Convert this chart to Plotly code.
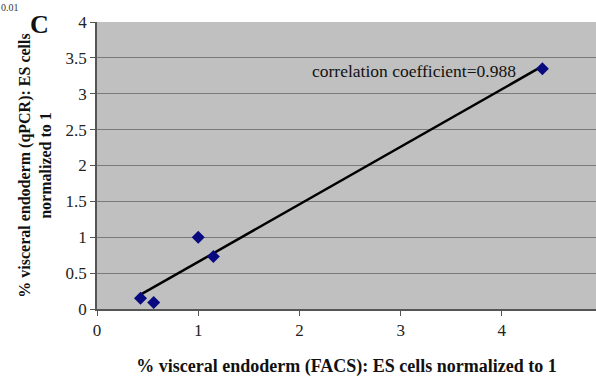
import numpy as np
import plotly.graph_objects as go

facs = [0.43, 0.56, 1.0, 1.15, 4.4]
qpcr = [0.15, 0.09, 1.0, 0.73, 3.35]
x_ticks = [0, 1, 2, 3, 4]
y_ticks = [0, 0.5, 1, 1.5, 2, 2.5, 3, 3.5, 4]
y_tick_labels = ["0", "0.5", "1", "1.5", "2", "2.5", "3", "3.5", "4"]

slope, intercept = np.polyfit(facs, qpcr, 1)
lx = [min(facs), max(facs)]
ly = [slope * v + intercept for v in lx]

serif = "Liberation Serif, serif"

fig = go.Figure()
fig.add_trace(go.Scatter(x=lx, y=ly, mode="lines",
                         line=dict(color="black", width=2.5), showlegend=False))
fig.add_trace(go.Scatter(x=facs, y=qpcr, mode="markers",
                         marker=dict(symbol="diamond", size=10, color="#0a0a80"),
                         showlegend=False))

fig.add_annotation(x=3.13, y=3.32, xref="x", yref="y", text="correlation coefficient=0.988",
                   showarrow=False, font=dict(family=serif, size=17.5, color="#111", weight="normal"),
                   xanchor="center", yanchor="middle")
fig.add_annotation(x=-0.115, y=0.99, xref="paper", yref="paper", text="<b>C</b>",
                   showarrow=False, font=dict(family=serif, size=26, color="#111"),
                   xanchor="center", yanchor="middle")
fig.add_annotation(x=-0.175, y=1.078, xref="paper", yref="paper", text="0.01",
                   showarrow=False, font=dict(family=serif, size=10, color="#333"),
                   xanchor="center", yanchor="top")

fig.update_layout(
    width=596, height=377,
    margin=dict(l=97, r=0, t=22, b=68),
    paper_bgcolor="white", plot_bgcolor="#c0c0c0",
    font=dict(family=serif, size=17, color="#222"),
    xaxis=dict(range=[0, 4.93], tickvals=x_ticks, showgrid=False, zeroline=False,
               showline=True, linecolor="#555", linewidth=1.5, ticks="outside",
               ticklen=5, tickcolor="#555",
               tickfont=dict(family=serif, size=17, color="#222", weight="normal"),
               title=dict(text="<b>% visceral endoderm (FACS): ES cells normalized to 1</b>",
                          font=dict(family=serif, size=18, color="#111"), standoff=22)),
    yaxis=dict(range=[0, 4], tickvals=y_ticks, ticktext=y_tick_labels,
               showgrid=True, gridcolor="#7a7a7a", gridwidth=1, zeroline=False,
               showline=True, linecolor="#555", linewidth=1.5, ticks="outside",
               ticklen=5, tickcolor="#555",
               tickfont=dict(family=serif, size=17, color="#222", weight="normal"),
               title=dict(text="<b>% visceral endoderm (qPCR): ES cells<br>normalized to 1</b>",
                          font=dict(family=serif, size=16, color="#111"), standoff=10)),
)

fig.write_html("out.html")
